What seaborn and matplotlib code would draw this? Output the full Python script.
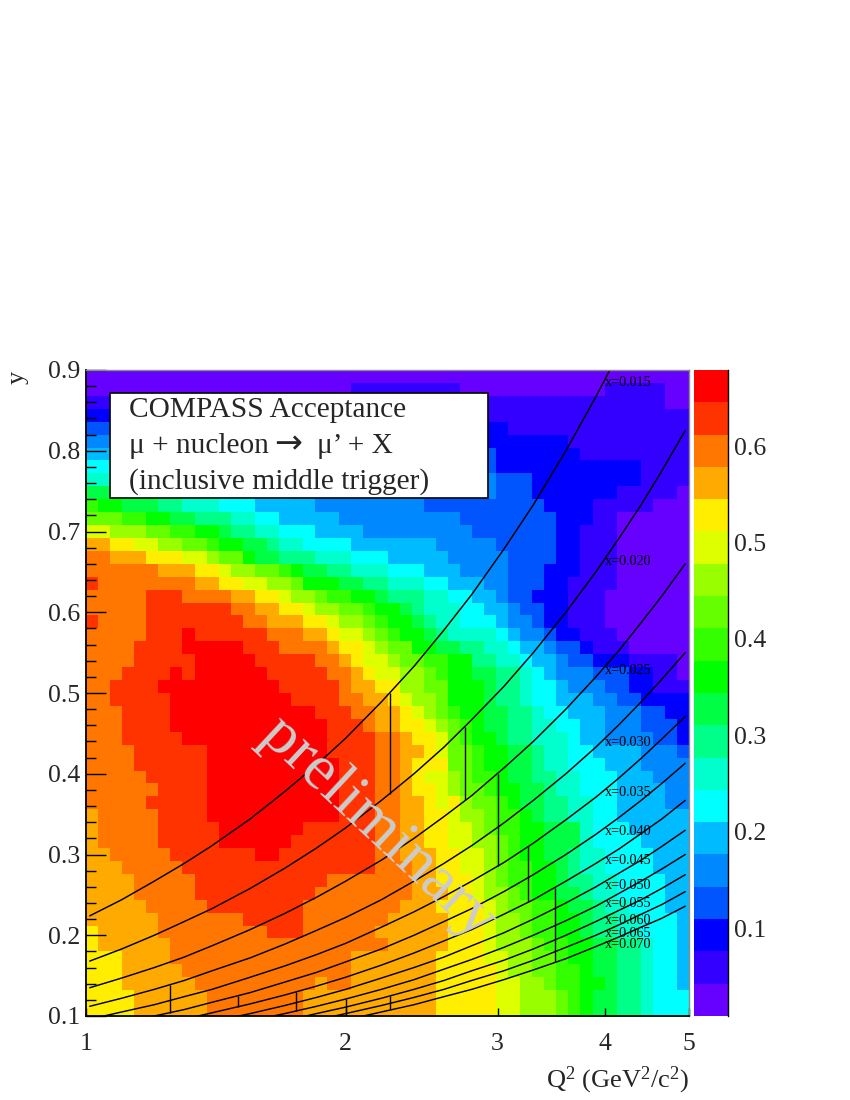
import numpy as np
import pandas as pd
import matplotlib
matplotlib.use("Agg")
import matplotlib.pyplot as plt
import seaborn as sns
from matplotlib.colors import ListedColormap
from matplotlib.patches import Rectangle

# colour bands of the acceptance scale, bottom to top
BAND_COLORS = ["#6600ff", "#3300ff", "#0000ff", "#0055ff", "#0088ff",
               "#00bbff", "#00ffff", "#00ffcc", "#00ff88", "#00ff44",
               "#00ff00", "#33ff00", "#66ff00", "#99ff00", "#ddff00",
               "#ffee00", "#ffaa00", "#ff7700", "#ff3300", "#ff0000"]
ACC_MIN = 0.0087
ACC_MAX = 0.679

# one base-20 band code per cell, top row first, blocks of 5 columns
ACCEPTANCE_ROWS = [
    "00000 00000 00000 00000 00000 00000 00000 00000 00000 00000",
    "00000 00000 00000 00000 00111 11111 10000 00000 00011 11100",
    "11111 11111 11111 11111 11111 11111 11111 11111 11111 11100",
    "22222 22221 11111 11111 11111 11111 11111 11111 11111 11111",
    "33333 33222 22222 22222 22222 22222 22222 11111 11111 11111",
    "44444 33333 33333 33333 33322 22222 22222 22222 11111 11111",
    "55555 44444 44444 33333 33333 33333 33332 22222 21111 11111",
    "66666 55555 55444 44444 33333 33333 33332 22222 22222 21111",
    "77777 66666 55555 55444 44444 44444 44443 33222 22222 21111",
    "99999 88877 77766 66555 55544 44444 44443 33222 22221 11110",
    "baa99 98877 76665 55554 44444 44433 33333 33322 22111 11000",
    "cccbb aa998 88776 65555 54444 44444 43333 33332 22110 00000",
    "eeddd ccbba a9887 76665 55544 44444 44333 33332 21110 00000",
    "ggffe eddcc baa99 87766 66555 55554 44443 33332 21110 00000",
    "hhggg fffee dcca9 98887 77666 55555 44444 33332 21110 00000",
    "hhhhh hgggf feddc cba99 88777 66655 54444 33322 21110 00000",
    "ihhhh hhhhg gffee ddcaa a9988 77766 55544 33322 11110 00000",
    "hhhhh iiihh hhggf feddc bbaa9 88877 66554 33222 11100 00000",
    "hhhhh iiiii iihhg gffed dccba a9877 76655 43322 11100 00000",
    "ihhhh iiiii iiihh gggff eddcb aa987 76665 44322 11100 00000",
    "hhhhh iiiji iiiii hhhgg feedc baa98 77776 54432 21110 00000",
    "hhhhi iiijj jjjii ihhhh gffed ccaa9 98877 65543 32111 00000",
    "hhhhi iiiij jjjji iiiih hgfee dccbb aa887 76554 33222 11110",
    "hhhii iijij jjjjj iiiii hhgfe eddcb aa998 87654 44333 22110",
    "hhiii ijjjj jjjjj jiiii ihggf fddcc aaa98 87665 44433 22111",
    "hhiii iijjj jjjjj jjiii ihhgg feddc aaa98 87665 55443 32222",
    "hhhii iijjj jjjjj jjjji iihhg gfedc baa99 88766 55544 43322",
    "hhhii iijjj jjjjj jjjjj iiihg gffed cba99 88776 65544 43332",
    "hhhii iiijj jjjjj jjjjj iiiih hgffe cbaa9 88777 65544 44332",
    "hhhhi iiiii jjjjj jjjjj iiiih hggfe ccbaa 99877 66555 54443",
    "hhhhi iiiii jjjjj jjjjj jiiih hgfff ccbaa 99877 66655 54444",
    "hhhhh iiiii jjjjj jjjjj jiiih hgfee dcbba 99887 76665 55444",
    "hhhhh hiiii jjjjj jjjjj jiiih hgffe dccba a9987 76665 55544",
    "hhhhh iiiii jjjjj jjjjj jiiih hggfe fdccb a9988 77665 55544",
    "ghhhh hiiii jjjjj jjjjj jiiih hggff eddcb ba988 77665 55555",
    "ghhhh hiiii ijjjj jjjii iiiih hggff eedcb baa99 97666 55555",
    "ghhhh hiiii ijjjj jjiii iiiih hggff eeddc baa99 97666 65555",
    "gghhh hhiii iiiij jiiii iiiih hgggf feedc baa99 87766 66555",
    "ggghh hhhii iiiii iiiii iiiih hhggf feedc bbaa9 87766 66555",
    "ggggh hhhhi iiiii iiiii hhhhh hhggf ffedc bbaa9 88776 66655",
    "ggggh hhhhi iiiii iiiih hhhhh hhggg ffedd cbaa9 98776 66655",
    "ggggg hhhhh iiiii iiihh hhhhh hgggf fffed ccbba 99877 66655",
    "ggggg ghhhh hhhii iiihh hhhhh ggggg fffed dcbba a9887 76665",
    "fgggg ghhhh hhhhh iiihh hhhhg ggggg fffed dcbba a9887 76665",
    "fgggg gghhh hhhhh hhhhh hhhhh ggggg fffed ddcbb aa998 87665",
    "fffgg gghhh hhhhh hhhhh hhggg ggggf fffee ddccb aa998 87665",
    "fffgg ggghh hhhhh hhhhh hhggg ggggf ffffe ddccb ba998 87665",
    "fffgg ggggh hhhhh hhhhg hhggg ggggf ffffe eddcb baa98 87665",
    "ffffg ggggg hhhhh hhhgg ggggg ggggf ffffe edddc ba998 87666",
    "ffffg ggggg hhhhh hhhgg ggggg ggggf ffffe edddc ba998 87666",
]

# kinematic lines
CURVE_Q2 = [1.01, 1.1, 1.2, 1.3, 1.4, 1.55, 1.7, 1.85, 2, 2.2, 2.4,
            2.6, 2.8, 3.05, 3.3, 3.6, 3.9, 4.15, 4.4, 4.65, 4.95]
CURVE_NAMES = ["x=0.015", "x=0.020", "x=0.025", "x=0.030", "x=0.035", "x=0.040",
               "x=0.045", "x=0.050", "x=0.055", "x=0.060", "x=0.065", "x=0.070"]
CURVE_Y = [
    [.224, .244, .267, .289, .311, .344, .378, .411, .444, .489, .533, .578, .622, .678, .733, .800, .867, .922, .978, 1.033, 1.100],
    [.168, .183, .200, .217, .233, .258, .283, .308, .333, .367, .400, .433, .467, .508, .550, .600, .650, .692, .733, .775, .825],
    [.135, .147, .160, .173, .187, .207, .227, .247, .267, .293, .320, .347, .373, .407, .440, .480, .520, .553, .587, .620, .660],
    [.112, .122, .133, .144, .156, .172, .189, .206, .222, .244, .267, .289, .311, .339, .367, .400, .433, .461, .489, .517, .550],
    [.096, .105, .114, .124, .133, .148, .162, .176, .190, .210, .229, .248, .267, .290, .314, .343, .371, .395, .419, .443, .471],
    [.084, .092, .100, .108, .117, .129, .142, .154, .167, .183, .200, .217, .233, .254, .275, .300, .325, .346, .367, .388, .413],
    [.075, .081, .089, .096, .104, .115, .126, .137, .148, .163, .178, .193, .207, .226, .244, .267, .289, .307, .326, .344, .367],
    [.067, .073, .080, .087, .093, .103, .113, .123, .133, .147, .160, .173, .187, .203, .220, .240, .260, .277, .293, .310, .330],
    [.061, .067, .073, .079, .085, .094, .103, .112, .121, .133, .145, .158, .170, .185, .200, .218, .236, .252, .267, .282, .300],
    [.056, .061, .067, .072, .078, .086, .094, .103, .111, .122, .133, .144, .156, .169, .183, .200, .217, .231, .244, .258, .275],
    [.052, .056, .062, .067, .072, .079, .087, .095, .103, .113, .123, .133, .144, .156, .169, .185, .200, .213, .226, .238, .254],
    [.048, .052, .057, .062, .067, .074, .081, .088, .095, .105, .114, .124, .133, .145, .157, .171, .186, .198, .210, .221, .236],
]
CURVE_LABEL_Y = [.885, .663, .528, .439, .377, .329, .292, .262, .239, .218, .202, .188]

# vertical bin edges
BIN_Q2 = [1.25, 1.5, 1.75, 2, 2.25, 2.25, 2.75, 3, 3.25, 3.5]
BIN_LOW = [.104, .111, .106, .102, .107, .375, .367, .286, .241, .167]
BIN_HIGH = [.139, .125, .130, .121, .125, .500, .458, .400, .310, .259]

W, H = 850, 1100
plot_box = [86 / W, 1 - 1016 / H, 603 / W, 646 / H]

sns.set_theme(style="white")
plt.rcParams["font.family"] = ["Liberation Serif", "DejaVu Serif"]
plt.rcParams["mathtext.fontset"] = "custom"
plt.rcParams["mathtext.rm"] = "Liberation Serif"
plt.rcParams["mathtext.default"] = "regular"

levels = np.array([[int(ch, 20) for ch in row.replace(" ", "")] for row in ACCEPTANCE_ROWS])
step = (ACC_MAX - ACC_MIN) / len(BAND_COLORS)
acceptance = ACC_MIN + (levels + 0.5) * step

fig = plt.figure(figsize=(W / 100, H / 100), dpi=100, facecolor="white")
ax = fig.add_axes(plot_box)
cbar_ax = fig.add_axes([694 / W, 1 - 1016 / H, 34 / W, 646 / H])

sns.heatmap(acceptance, cmap=ListedColormap(BAND_COLORS), vmin=ACC_MIN, vmax=ACC_MAX,
            xticklabels=False, yticklabels=False, ax=ax, cbar_ax=cbar_ax)

# colour scale
cbar = ax.collections[0].colorbar
cbar.set_ticks([0.1, 0.2, 0.3, 0.4, 0.5, 0.6])
cbar.ax.tick_params(direction="in", length=14.4, width=1, color="black", labelsize=18.5, pad=4.5)
cbar.outline.set_visible(False)
cbar_ax.spines["right"].set_visible(True)
cbar_ax.spines["right"].set_color("black")
cbar_ax.spines["right"].set_linewidth(1)

# second axes on top with the real log scale
over = fig.add_axes(plot_box, facecolor="none")
over.set_xscale("log")

curves = pd.DataFrame({
    "Q2": CURVE_Q2 * len(CURVE_NAMES),
    "y": np.ravel(CURVE_Y),
    "bin": np.repeat(CURVE_NAMES, len(CURVE_Q2)),
})
sns.lineplot(data=curves, x="Q2", y="y", units="bin", estimator=None, color="black",
             linewidth=1.05, ax=over, legend=False)
over.vlines(BIN_Q2, BIN_LOW, BIN_HIGH, color="black", linewidth=1)

over.set_xlim(1, 5)
over.set_ylim(0.1, 0.9)
over.set_xlabel("")
over.set_ylabel("")
over.set_xticks([1, 2, 3, 4, 5], ["1", "2", "3", "4", "5"])
over.set_xticks([], minor=True)
over.set_yticks(np.arange(0.1, 0.95, 0.1), [f"{v:.1f}" for v in np.arange(0.1, 0.95, 0.1)])
over.set_yticks(np.arange(0.1, 0.9, 0.02), minor=True)
over.tick_params(axis="x", which="major", direction="in", length=5.8, width=1, color="black",
                 labelsize=18.5, pad=12)
over.tick_params(axis="y", which="major", direction="in", length=14.4, width=1, color="black",
                 labelsize=18.5, pad=4)
over.tick_params(axis="y", which="minor", direction="in", length=7.2, width=1, color="black", left=True)
over.tick_params(axis="x", which="both", bottom=True)
over.tick_params(axis="y", which="both", left=True)
for side in ["left", "bottom"]:
    over.spines[side].set_color("black")
    over.spines[side].set_linewidth(1.3)
for side in ["top", "right"]:
    over.spines[side].set_color("#8a8a8a")
    over.spines[side].set_linewidth(1)

for name, label_y in zip(CURVE_NAMES, CURVE_LABEL_Y):
    over.text(3.99, label_y, name, fontsize=10.2, color="black", ha="left", va="center")

# title box
fig.add_artist(Rectangle((110 / W, 1 - 498 / H), 378 / W, 105 / H, transform=fig.transFigure,
                         facecolor="white", edgecolor="black", linewidth=1.2, zorder=2))
fig.text(129 / W, 1 - 417 / H, "COMPASS Acceptance", fontsize=21.2, va="baseline", zorder=3)
fig.text(129 / W, 1 - 453 / H, "\u03bc + nucleon", fontsize=21.2, va="baseline", zorder=3)
fig.text(274 / W, 1 - 453 / H, "\u2192", fontsize=24, va="baseline", zorder=3, family="DejaVu Sans")
fig.text(317 / W, 1 - 453 / H, "\u03bc\u2019 + X", fontsize=21.2, va="baseline", zorder=3)
fig.text(129 / W, 1 - 489 / H, "(inclusive middle trigger)", fontsize=21.2, va="baseline", zorder=3)

fig.text(378 / W, 1 - 828 / H, "preliminary", fontsize=46, color="#cccccc", rotation=-43,
         ha="center", va="center", rotation_mode="anchor", zorder=4)

fig.text(689 / W, 1 - 1087 / H, "Q$^{2}$ (GeV$^{2}$/c$^{2}$)", fontsize=19, ha="right", va="baseline")
fig.text(18 / W, 1 - 371 / H, "y", fontsize=19, rotation=90, ha="center", va="top")

fig.savefig("out.png", dpi=100)
